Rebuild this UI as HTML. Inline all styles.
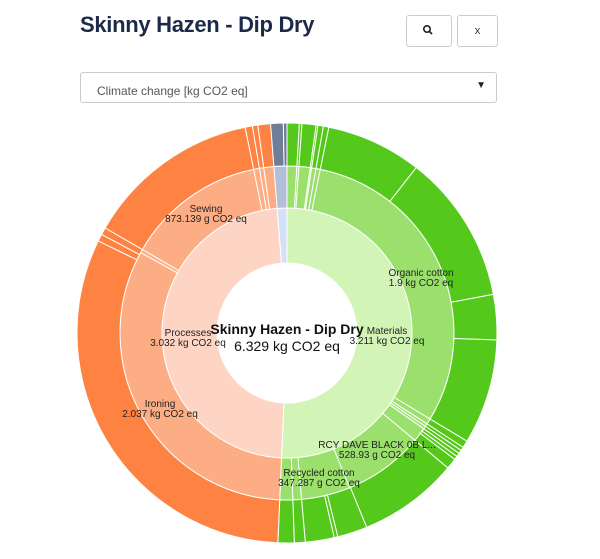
<!DOCTYPE html>
<html><head><meta charset="utf-8"><style>
body{margin:0;width:600px;height:559px;background:#fff;font-family:"Liberation Sans",sans-serif;position:relative;overflow:hidden}
h1{position:absolute;left:80px;top:12px;margin:0;font-size:22px;font-weight:bold;color:#1b2a48;letter-spacing:-0.3px}
.btn{position:absolute;top:15px;height:30px;border:1px solid #ccc;border-radius:3px;background:#fff;font-size:11px;color:#333;text-align:center;line-height:30px}
.sel{position:absolute;left:80px;top:72px;width:417px;height:31px;border:1px solid #ccc;border-radius:3px;font-size:12px;color:#555;line-height:36px;box-sizing:border-box;padding-left:16px}
svg{position:absolute;left:0;top:0}
svg text{font-family:"Liberation Sans",sans-serif;font-size:10px;fill:#222;text-anchor:middle}
</style></head><body>
<h1>Skinny Hazen - Dip Dry</h1>
<div class="btn" style="left:406px;width:44px"></div>
<div class="btn" style="left:457px;width:39px">x</div>
<div class="sel">Climate change [kg CO2 eq]<span style="position:absolute;right:10px;top:-5px;font-size:10px;color:#222">▼</span></div>
<svg id="s" width="600" height="559"></svg>
<script>
var cx=287,cy=333,R=[70,125,167,210];
function p(r,a){a=(a-90)*Math.PI/180;return [cx+r*Math.cos(a),cy+r*Math.sin(a)];}
function arc(r1,r2,a1,a2,c){var l=(a2-a1)>180?1:0;var A=p(r2,a1),B=p(r2,a2),C=p(r1,a2),D=p(r1,a1);
return '<path d="M'+A+' A'+r2+','+r2+' 0 '+l+' 1 '+B+' L'+C+' A'+r1+','+r1+' 0 '+l+' 0 '+D+'Z" fill="'+c+'" stroke="#fff" stroke-width="1"/>';}
var h='<circle cx="427" cy="29" r="3.2" fill="none" stroke="#222" stroke-width="1.6"/><line x1="429.5" y1="31.5" x2="432" y2="34" stroke="#222" stroke-width="1.8"/>';
function ring(i,b,c){for(var k=0;k<b.length-1;k++)h+=arc(R[i],R[i+1],b[k],b[k+1],c);}
h+=arc(R[0],R[1],0,182.5,'#d3f4b7');h+=arc(R[0],R[1],182.5,355.5,'#fed5c4');h+=arc(R[0],R[1],355.5,360,'#d4e0f6');
ring(1,[0,3.4,4.1,8,8.5,10,11.5,121,123,124,125,130,158,175,178,182.5],'#9be06c');
ring(1,[182.5,298.8,300,348.5,350.5,352,355.5],'#fdad84');
ring(1,[355.5,360],'#b2bfd6');
ring(2,[0,3.4,4.1,8,8.5,10,11.5,38,79.4,91.9,121,123,124,125,126,127,130,157.7,166,167,175,178,182.5],'#55c91b');
ring(2,[182.5,296,298,300,348.5,350.5,352,355.5],'#fe8241');
ring(2,[355.5,359,360],'#6f7d96');
var s=document.getElementById('s');
h+='<text x="206" y="212">Sewing</text><text x="206" y="222">873.139 g CO2 eq</text>';
h+='<text x="421" y="276">Organic cotton</text><text x="421" y="286">1.9 kg CO2 eq</text>';
h+='<text x="188" y="336">Processes</text><text x="188" y="346">3.032 kg CO2 eq</text>';
h+='<text x="387" y="334">Materials</text><text x="387" y="344">3.211 kg CO2 eq</text>';
h+='<text x="160" y="407">Ironing</text><text x="160" y="417">2.037 kg CO2 eq</text>';
h+='<text x="377" y="448">RCY DAVE BLACK 0B L...</text><text x="377" y="458">528.93 g CO2 eq</text>';
h+='<text x="319" y="476">Recycled cotton</text><text x="319" y="486">347.287 g CO2 eq</text>';
h+='<text x="287" y="334" style="font-size:14px;font-weight:bold;fill:#111">Skinny Hazen - Dip Dry</text>';
h+='<text x="287" y="351" style="font-size:14px;fill:#111">6.329 kg CO2 eq</text>';
s.innerHTML+=h;
</script>
</body></html>
